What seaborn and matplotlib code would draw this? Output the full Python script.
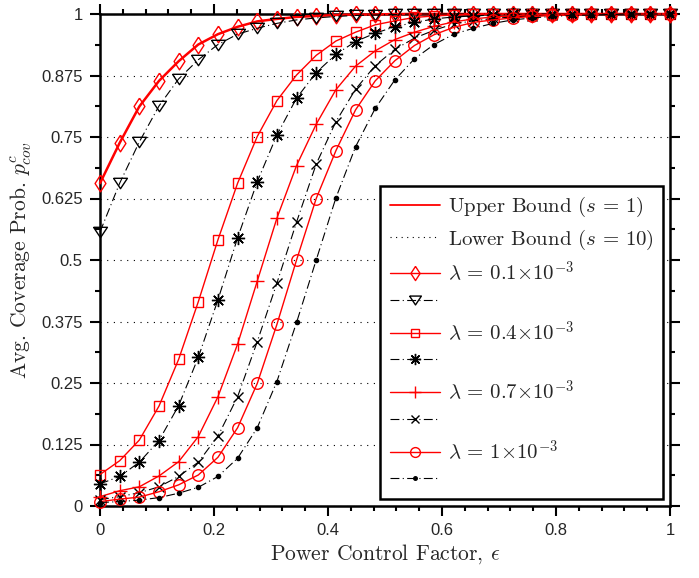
import numpy as np
import pandas as pd
import matplotlib
matplotlib.use("Agg")
import matplotlib.pyplot as plt
from matplotlib.lines import Line2D
from matplotlib.ticker import MultipleLocator
import seaborn as sns

sns.set_style("ticks")
plt.rcParams["mathtext.fontset"] = "cm"
plt.rcParams["axes.unicode_minus"] = False

# ---------------- data ----------------
eps = np.linspace(0, 1, 30)

def pad(v, n=30):
    return list(v) + [1.0] * (n - len(v))

lam01_upper = pad([0.656, 0.738, 0.812, 0.864, 0.904, 0.938, 0.959, 0.974, 0.985, 0.990,
                   0.994, 0.996, 0.998, 0.999, 0.999])
lam01_lower = pad([0.557, 0.656, 0.740, 0.813, 0.868, 0.907, 0.938, 0.959, 0.971, 0.981,
                   0.988, 0.992, 0.995, 0.997, 0.998, 0.999])
lam04_upper = pad([0.064, 0.092, 0.134, 0.203, 0.298, 0.415, 0.541, 0.656, 0.751, 0.824,
                   0.876, 0.916, 0.945, 0.963, 0.978, 0.986, 0.993, 0.996, 0.998, 0.999])
lam04_lower = pad([0.045, 0.060, 0.089, 0.133, 0.204, 0.302, 0.419, 0.545, 0.659, 0.754,
                   0.829, 0.881, 0.918, 0.944, 0.961, 0.974, 0.983, 0.990, 0.994, 0.996,
                   0.998, 0.999])
lam07_upper = pad([0.019, 0.031, 0.039, 0.061, 0.090, 0.141, 0.222, 0.329, 0.457, 0.585,
                   0.692, 0.776, 0.846, 0.894, 0.925, 0.948, 0.963, 0.975, 0.984, 0.990,
                   0.994, 0.996, 0.998, 0.999])
lam07_lower = pad([0.013, 0.019, 0.027, 0.039, 0.060, 0.089, 0.142, 0.222, 0.334, 0.453,
                   0.577, 0.695, 0.781, 0.847, 0.895, 0.928, 0.951, 0.967, 0.980, 0.986,
                   0.991, 0.994, 0.996, 0.998, 0.999])
lam1_upper = pad([0.009, 0.014, 0.018, 0.029, 0.043, 0.063, 0.099, 0.159, 0.249, 0.369,
                  0.500, 0.625, 0.722, 0.805, 0.864, 0.905, 0.936, 0.958, 0.973, 0.983,
                  0.988, 0.992, 0.995, 0.997, 0.998, 0.999])
lam1_lower = pad([0.007, 0.009, 0.012, 0.017, 0.026, 0.038, 0.060, 0.097, 0.159, 0.253,
                  0.373, 0.500, 0.626, 0.730, 0.808, 0.866, 0.909, 0.938, 0.959, 0.971,
                  0.981, 0.988, 0.992, 0.995, 0.997, 0.998, 0.999])

labels = [r"$\lambda\, =\, 0.1{\times}10^{-3}$", r"$\lambda\, =\, 0.4{\times}10^{-3}$",
          r"$\lambda\, =\, 0.7{\times}10^{-3}$", r"$\lambda\, =\, 1{\times}10^{-3}$"]
xticks = [0, 0.2, 0.4, 0.6, 0.8, 1]
yticks = [0, 0.125, 0.25, 0.375, 0.5, 0.625, 0.75, 0.875, 1]
yticklabels = ["0", "0.125", "0.25", "0.375", "0.5", "0.625", "0.75", "0.875", "1"]

# ---------------- figure ----------------
fig = plt.figure(figsize=(6.99, 5.78), dpi=100)
ax = fig.add_axes([100 / 699, 1 - 506 / 578, 570 / 699, 492 / 578])

RED = (1, 0, 0)
dashdot = (0, (8, 3, 1, 3))
diamond = [(0, 1), (0.65, 0), (0, -1), (-0.65, 0), (0, 1)]
tri_down = [(-1, 0.75), (1, 0.75), (0, -0.75), (-1, 0.75)]

series = [
    (lam01_upper, RED, "-", diamond, 12, 1.8),
    (lam01_lower, "k", dashdot, tri_down, 10, 0.8),
    (lam04_upper, RED, "-", "s", 6.5, 1.0),
    (lam04_lower, "k", dashdot, (8, 2, 0), 9.5, 0.8),
    (lam07_upper, RED, "-", "+", 9.5, 1.0),
    (lam07_lower, "k", dashdot, "x", 7.5, 0.8),
    (lam1_upper, RED, "-", "o", 8.3, 1.0),
    (lam1_lower, "k", dashdot, ".", 6, 0.8),
]

handles = []
for vals, col, ls, mk, ms, lw in series:
    df = pd.DataFrame({"eps": eps, "p": vals})
    fc = col if isinstance(mk, str) and mk == "." else "none"
    sns.lineplot(data=df, x="eps", y="p", ax=ax, color=col, linestyle=ls,
                 linewidth=lw, marker=mk, markersize=ms, clip_on=False,
                 markerfacecolor=fc, markeredgecolor=col, markeredgewidth=1.0, zorder=6)
    handles.append(Line2D([], [], color=col, linestyle=ls, linewidth=1.0 if col == RED else 0.8,
                          marker=mk, markersize=ms * 0.85,
                          markerfacecolor=fc, markeredgecolor=col, markeredgewidth=1.0))

ax.set_xlim(0, 1)
ax.set_ylim(0, 1)
ax.set_xticks(xticks)
ax.set_xticklabels([f"{t:g}" for t in xticks])
ax.set_yticks(yticks)
ax.set_yticklabels(yticklabels)
ax.xaxis.set_minor_locator(MultipleLocator(0.04))
ax.yaxis.set_minor_locator(MultipleLocator(0.0625))

for s in ax.spines.values():
    s.set_visible(True)
    s.set_linewidth(1.8)
    s.set_color("black")
    s.set_zorder(5)

ax.tick_params(which="both", direction="out", top=True, right=True,
               labeltop=False, labelright=False, color="black", width=1.5)
ax.tick_params(which="major", length=7, labelsize=12, pad=5.5)
ax.tick_params(which="minor", length=3.5)
for lab in ax.get_xticklabels() + ax.get_yticklabels():
    lab.set_family("Liberation Sans")

ax.yaxis.grid(True, which="major", linestyle=(0, (1, 5)), color="black", linewidth=0.8)
ax.xaxis.grid(False)
ax.set_axisbelow(True)

ax.set_xlabel(r"Power Control Factor, $\epsilon$", family="cmr10", fontsize=15.5, labelpad=3)
ax.set_ylabel(r"Avg. Coverage Prob. $p^c_{cov}$", family="cmr10", fontsize=15.5, labelpad=5)

leg_handles = [Line2D([], [], color=RED, linestyle="-", linewidth=1.3),
               Line2D([], [], color="k", linestyle=(0, (1, 4)), linewidth=0.8)]
leg_labels = [r"Upper Bound ($s\,=\,1$)", r"Lower Bound ($s\,=\,10$)"]
for i in range(4):
    leg_handles += [handles[2 * i], handles[2 * i + 1]]
    leg_labels += [labels[i], " "]

leg = ax.legend(leg_handles, leg_labels, loc="lower right", fancybox=False,
                framealpha=1, edgecolor="black", handlelength=2.4,
                handletextpad=0.4, labelspacing=0.39, borderaxespad=0.33,
                borderpad=0.45, numpoints=1, prop={"family": "cmr10", "size": 15})
leg.get_frame().set_linewidth(1.8)
leg.set_zorder(10)

fig.savefig("out.png", dpi=100)
